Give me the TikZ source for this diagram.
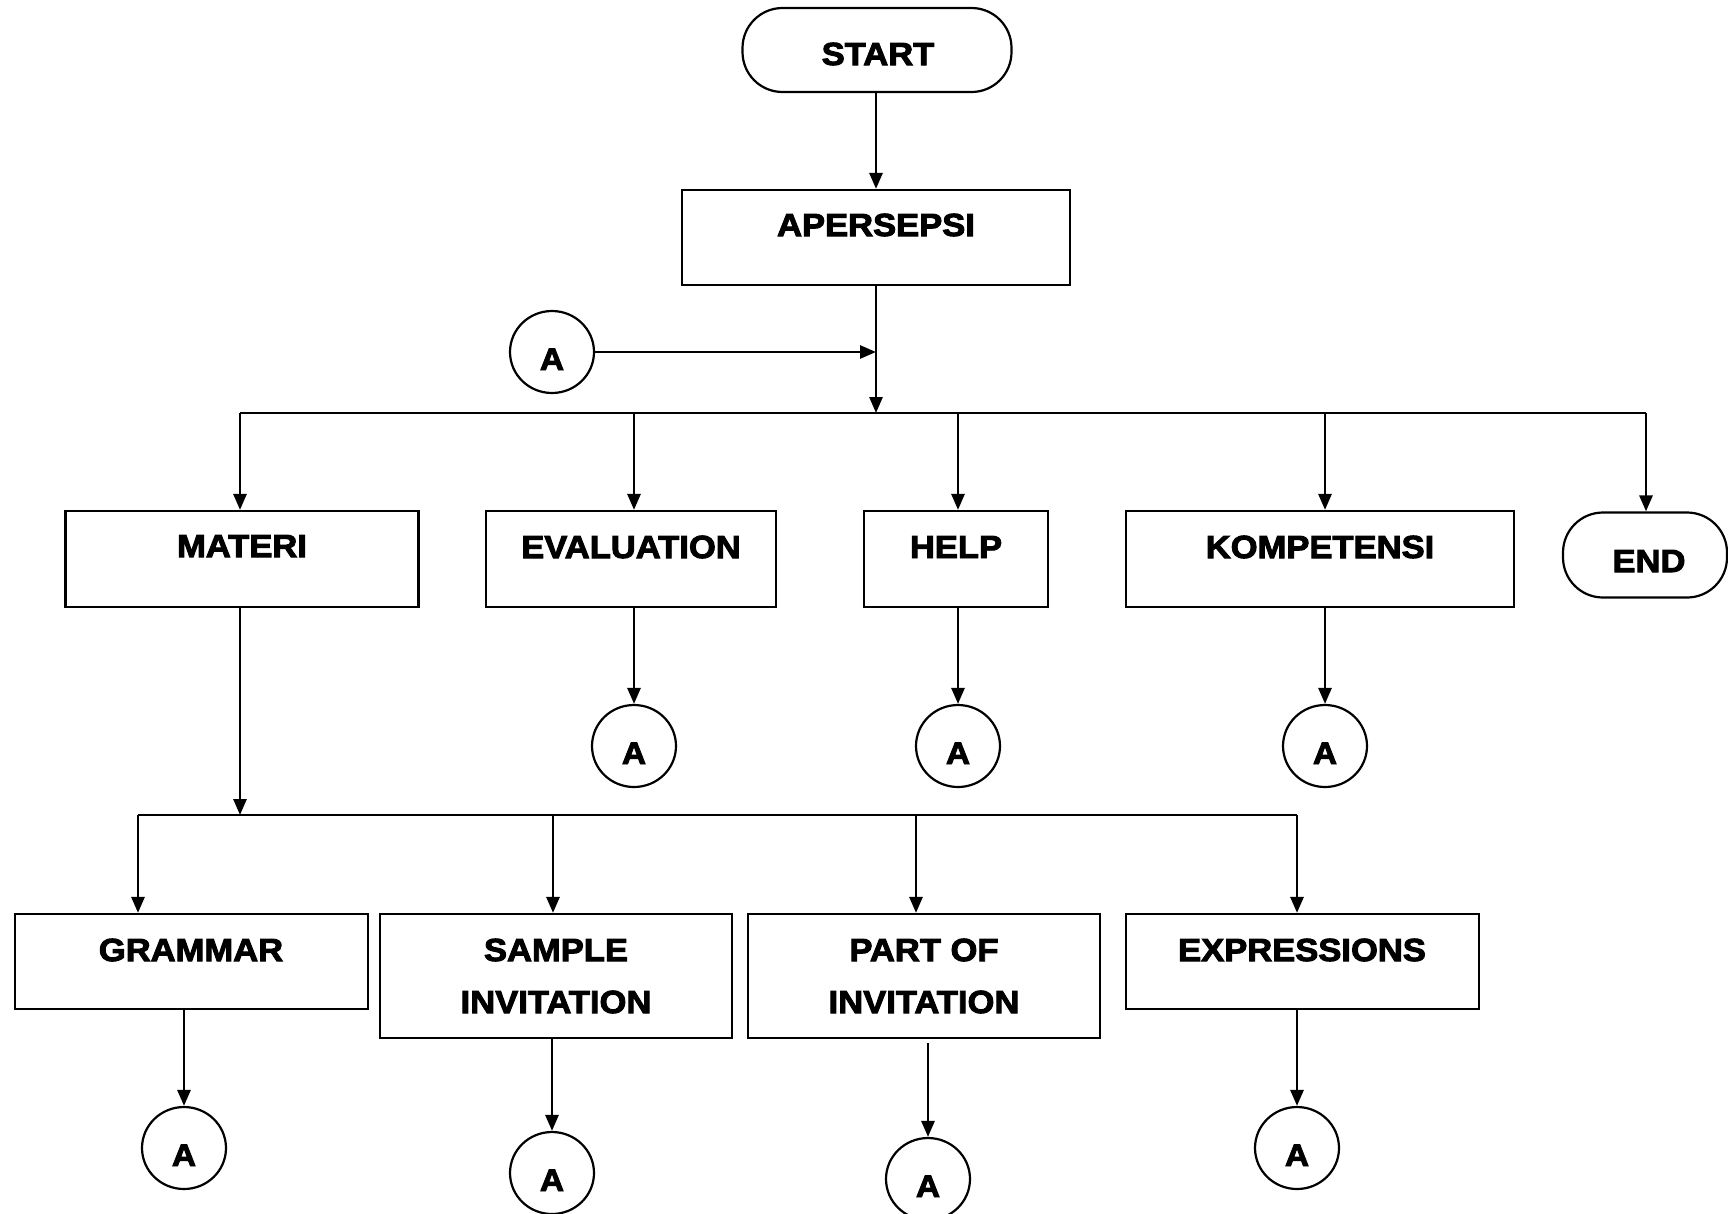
\documentclass[tikz,border=0pt]{standalone}
\usepackage{fontspec}
\setmainfont{Liberation Sans}[FakeStretch=1.08,BoldFeatures={FakeBold=3}]
\usetikzlibrary{shapes.geometric,arrows.meta}
\newcommand{\circA}{\raisebox{-18pt}[0pt][0pt]{A}}
\begin{document}
\begin{tikzpicture}[x=1pt,y=-1pt,
  box/.style={draw,line width=2.2pt,rectangle,inner sep=0pt},
  term/.style={draw,line width=2.2pt,rectangle,rounded corners=40pt,inner sep=0pt},
  conn/.style={draw,line width=2.2pt,ellipse,inner sep=0pt,minimum width=84pt,minimum height=82pt,font=\fontsize{31}{36}\selectfont\bfseries},
  lbl/.style={font=\fontsize{32}{52}\selectfont\bfseries,align=center,inner sep=0pt},
  flow/.style={line width=2.8pt,-{Triangle[length=16pt,width=13pt]}},
  wire/.style={line width=2.8pt}]
\useasboundingbox (0,0) rectangle (1728,1213);

% top
\node[term,minimum width=269pt,minimum height=84pt] (start) at (877,50) {};
\node[lbl] (startT) at (878,54) {START};
\node[box,minimum width=388pt,minimum height=95pt] (ap) at (876,237.5) {};
\node[lbl] (apT) at (876,225) {APERSEPSI};
\node[conn] (a0) at (552,352) {\circA};
\coordinate (j1) at (876,413);
\coordinate (busL) at (240,413);
\coordinate (busR) at (1646,413);

\draw[flow] (start.south -| ap.north) -- (ap.north);
\draw[flow] (ap.south) -- (j1);
\draw[flow] (a0.east) -- (a0.east -| ap.south);
\draw[wire] (busL) -- (busR);

% second row
\node[box,minimum width=353pt,minimum height=96pt] (mat) at (242,559) {};
\node[lbl] (matT) at (242,546) {MATERI};
\node[box,minimum width=290pt,minimum height=96pt] (ev) at (631,559) {};
\node[lbl] (evT) at (631,547) {EVALUATION};
\node[box,minimum width=184pt,minimum height=96pt] (hp) at (956,559) {};
\node[lbl] (hpT) at (956,547) {HELP};
\node[box,minimum width=388pt,minimum height=96pt] (kp) at (1320,559) {};
\node[lbl] (kpT) at (1320,547) {KOMPETENSI};
\node[term,minimum width=164pt,minimum height=85pt] (endn) at (1645,555) {};
\node[lbl] (endT) at (1649,561) {END};

\coordinate (tev) at (634,413);
\coordinate (thp) at (958,413);
\coordinate (tkp) at (1325,413);
\draw[flow] (busL) -- (busL |- mat.north);
\draw[flow] (tev) -- (tev |- ev.north);
\draw[flow] (thp) -- (thp |- hp.north);
\draw[flow] (tkp) -- (tkp |- kp.north);
\draw[flow] (busR) -- (busR |- endn.north);

\node[conn] (aev) at (634,746) {\circA};
\node[conn] (ahp) at (958,746) {\circA};
\node[conn] (akp) at (1325,746) {\circA};
\draw[flow] (aev.north |- ev.south) -- (aev.north);
\draw[flow] (ahp.north |- hp.south) -- (ahp.north);
\draw[flow] (akp.north |- kp.south) -- (akp.north);

% third row
\coordinate (m2) at (240,815);
\coordinate (b2L) at (138,815);
\coordinate (b2R) at (1297,815);
\coordinate (tsa) at (553,815);
\coordinate (tpo) at (916,815);
\draw[flow] (busL |- mat.south) -- (m2);
\draw[wire] (b2L) -- (b2R);

\node[box,minimum width=353pt,minimum height=95pt] (gr) at (191.5,961.5) {};
\node[lbl] (grT) at (191,950) {GRAMMAR};
\node[box,minimum width=352pt,minimum height=124pt] (sa) at (556,976) {};
\node[lbl] (saT) at (556,976) {SAMPLE\\INVITATION};
\node[box,minimum width=352pt,minimum height=124pt] (po) at (924,976) {};
\node[lbl] (poT) at (924,976) {PART OF\\INVITATION};
\node[box,minimum width=353pt,minimum height=95pt] (ex) at (1302.5,961.5) {};
\node[lbl] (exT) at (1302,950) {EXPRESSIONS};

\draw[flow] (b2L) -- (b2L |- gr.north);
\draw[flow] (tsa) -- (tsa |- sa.north);
\draw[flow] (tpo) -- (tpo |- po.north);
\draw[flow] (b2R) -- (b2R |- ex.north);

\node[conn] (agr) at (184,1148) {\circA};
\node[conn] (asa) at (552,1173) {\circA};
\node[conn] (apo) at (928,1179) {\circA};
\node[conn] (aex) at (1297,1148) {\circA};
\draw[flow] (agr.north |- gr.south) -- (agr.north);
\draw[flow] (asa.north |- sa.south) -- (asa.north);
\draw[flow] ([yshift=-4pt]apo.north |- po.south) -- (apo.north);
\draw[flow] (aex.north |- ex.south) -- (aex.north);
\end{tikzpicture}
\end{document}
